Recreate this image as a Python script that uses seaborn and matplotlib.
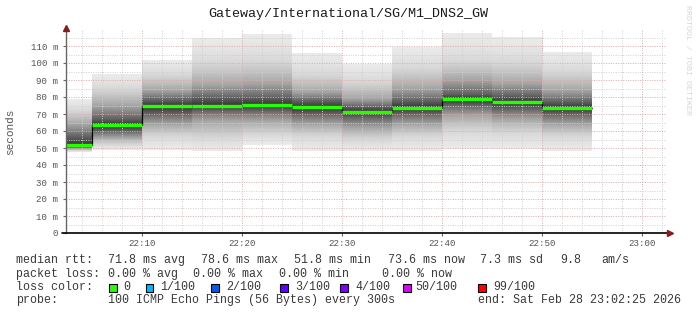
import matplotlib
matplotlib.use("Agg")
import matplotlib.pyplot as plt
import seaborn as sns
import numpy as np
import pandas as pd

# ---------------- data ----------------
title = "Gateway/International/SG/M1_DNS2_GW"
bar_end = ["22:05", "22:10", "22:15", "22:20", "22:25", "22:30",
           "22:35", "22:40", "22:45", "22:50", "22:55"]
rtt_max = [78.8, 93.5, 102.0, 114.5, 117.0, 105.7, 99.4, 109.2, 117.5, 115.0, 106.7]
rtt_q90 = [72.0, 85.0, 93.0, 100.0, 101.0, 93.0, 89.0, 97.0, 101.0, 100.0, 95.0]
rtt_q75 = [64.0, 75.0, 84.0, 87.0, 88.0, 83.0, 79.0, 85.0, 90.0, 88.0, 84.0]
rtt_q60 = [57.0, 67.5, 78.5, 80.0, 80.0, 78.0, 74.5, 78.0, 82.0, 81.0, 77.5]
rtt_med = [51.8, 63.3, 74.7, 74.9, 75.5, 74.0, 71.3, 73.8, 78.6, 77.0, 73.6]
rtt_q40 = [50.5, 60.0, 70.0, 72.0, 72.0, 70.0, 68.0, 70.0, 75.0, 73.0, 70.0]
rtt_q25 = [49.5, 56.0, 64.0, 66.0, 66.0, 64.0, 62.0, 64.0, 69.0, 67.0, 64.0]
rtt_q10 = [48.5, 52.0, 57.0, 56.0, 58.0, 57.0, 55.0, 57.0, 60.0, 59.0, 57.0]
rtt_min = [47.5, 49.0, 49.0, 48.0, 52.0, 48.0, 48.0, 48.0, 49.5, 49.5, 48.5]
quantile_levels = [0.0, 0.10, 0.25, 0.40, 0.50, 0.60, 0.75, 0.90, 1.0]

x_tick_labels = ["22:10", "22:20", "22:30", "22:40", "22:50", "23:00"]
y_tick_values = [0, 10, 20, 30, 40, 50, 60, 70, 80, 90, 100, 110]
view_start = "22:02:25"
view_end = "23:02:25"
step_minutes = 5

loss_labels = ["0", "1/100", "2/100", "3/100", "4/100", "50/100", "99/100"]
loss_colors = ["#26ff00", "#00b8ff", "#0059ff", "#5e00ff", "#7e00ff", "#dd00ff", "#ff0000"]

stats_rtt = ["median rtt:", "71.8 ms avg", "78.6 ms max", "51.8 ms min",
             "73.6 ms now", "7.3 ms sd", "9.8", "am/s"]
stats_loss = ["packet loss:", "0.00 % avg", "0.00 % max", "0.00 % min", "0.00 % now"]
probe_text = ["probe:", "100 ICMP Echo Pings (56 Bytes) every 300s",
              "end: Sat Feb 28 23:02:25 2026"]


def to_min(s):
    parts = [int(p) for p in s.split(":")]
    h, m = parts[0], parts[1]
    sec = parts[2] if len(parts) > 2 else 0
    return (h - 22) * 60 + m + sec / 60.0


df = pd.DataFrame({
    "end": [to_min(t) for t in bar_end],
    "lo": rtt_min, "q10": rtt_q10, "q25": rtt_q25, "q40": rtt_q40,
    "med": rtt_med, "q60": rtt_q60, "q75": rtt_q75, "q90": rtt_q90, "hi": rtt_max,
})
df["start"] = df["end"] - step_minutes
qcols = ["lo", "q10", "q25", "q40", "med", "q60", "q75", "q90", "hi"]

# ---------------- figure ----------------
sns.set_style("white")
plt.rcParams["font.family"] = ["Liberation Mono", "DejaVu Sans Mono"]

W, H = 697, 315
fig = plt.figure(figsize=(W / 100, H / 100), dpi=100)
fig.patch.set_facecolor("white")


def fx(px):
    return px / W


def fy(py):
    return 1 - py / H


ax = fig.add_axes([fx(66), fy(233), 600 / W, 204 / H])
x0, x1 = to_min(view_start), to_min(view_end)
y_top = 120

# smoke: shade each bar by depth into its ping distribution (darker toward the median)
ygrid = np.linspace(0, y_top, 1201)
for _, r in df.iterrows():
    qv = r[qcols].to_numpy(dtype=float)
    F = np.interp(ygrid, qv, quantile_levels)
    depth = 2 * np.minimum(F, 1 - F)
    gray = 0.92 - 0.72 * depth ** 1.4
    inside = (ygrid >= qv[0]) & (ygrid <= qv[-1])
    rgba = np.zeros((len(ygrid), 1, 4))
    rgba[:, 0, 0] = gray
    rgba[:, 0, 1] = gray
    rgba[:, 0, 2] = gray
    rgba[:, 0, 3] = inside.astype(float)
    ax.imshow(rgba, extent=[r["start"], r["end"], 0, y_top], origin="lower",
              aspect="auto", interpolation="nearest", zorder=1)

# median step line (black) + green loss-colored segments
xs = list(df["start"]) + [df["end"].iloc[-1]]
ys = list(df["med"]) + [df["med"].iloc[-1]]
step_df = pd.DataFrame({"t": xs, "v": ys})
sns.lineplot(data=step_df, x="t", y="v", ax=ax, color="black", lw=0.9,
             drawstyle="steps-post", estimator=None, zorder=3)
ax.hlines(df["med"], df["start"], df["end"], colors=loss_colors[0], lw=2.4, zorder=4)

ax.set_xlim(x0, x1)
ax.set_ylim(0, y_top)
ax.set_facecolor("white")

# grid
major_x = [to_min(t) for t in x_tick_labels]
minor_x = [m for m in np.arange(4, 63, 2) if m % 10 != 0]
ax.set_xticks(major_x)
ax.set_xticklabels(x_tick_labels)
ax.set_xticks(minor_x, minor=True)
ax.set_yticks(y_tick_values)
ax.set_yticklabels(["0" if v == 0 else f"{v} m" for v in y_tick_values])
ax.set_yticks([v + 5 for v in y_tick_values], minor=True)
ax.set_axisbelow(False)
ax.grid(which="major", color="#e3a8a8", linestyle=(0, (1, 1.5)), lw=0.7, zorder=2)
ax.grid(which="minor", color="#cfcfcf", linestyle=(0, (1, 1.5)), lw=0.7, zorder=2)
for sp in ax.spines.values():
    sp.set_visible(False)

ax.tick_params(axis="y", which="major", length=2.2, width=0.8, color="#666666",
               pad=3.4, labelsize=6.6, labelcolor="#555555", left=True)
ax.tick_params(axis="x", which="major", length=2, width=0.8, color="#666666",
               pad=2.2, labelsize=6.6, labelcolor="#555555", bottom=True)
ax.tick_params(which="minor", length=0)
ax.set_xlabel("")
ax.set_ylabel("")

# axes lines with arrows
ax.plot([x0, x0], [0, y_top], color="#666666", lw=1.0, clip_on=False, zorder=5)
ax.plot([x0 - 0.4, x1 + 0.3], [0, 0], color="black", lw=1.2, clip_on=False, zorder=5)
ax.plot([x0], [y_top + 0.3], marker="^", color="#8b1a1a", ms=4.5, clip_on=False, zorder=6)
ax.plot([x1 + 0.4], [0], marker=">", color="#8b1a1a", ms=4.5, clip_on=False, zorder=6)

# texts
fig.text(fx(348), fy(17.5), title, ha="center", va="baseline", fontsize=9.6, color="#1a1a1a")
fig.text(fx(10.5), fy(131.5), "seconds", rotation=90, ha="center", va="center",
         fontsize=8, color="#555555")
fig.text(fx(688), fy(5), "RRDTOOL / TOBI OETIKER", rotation=-90, ha="center", va="top",
         fontsize=6, color="#d6d6d6")

lc = "#3a3a3a"
fs = 8.4
rtt_x = [16, 108, 201, 294, 388, 480, 560, 601]
for t, px in zip(stats_rtt, rtt_x):
    fig.text(fx(px), fy(263.3), t, fontsize=fs, color=lc, va="baseline")
loss_x = [16, 108, 193.5, 279, 382]
for t, px in zip(stats_loss, loss_x):
    fig.text(fx(px), fy(276.7), t, fontsize=fs, color=lc, va="baseline")
fig.text(fx(16), fy(290), "loss color:", fontsize=fs, color=lc, va="baseline")
box_x = [109, 145.7, 211, 280, 340, 403.5, 478]
lab_x = [123.3, 160, 225.7, 295, 355, 415.7, 493.3]
for lab, col, bx, tx in zip(loss_labels, loss_colors, box_x, lab_x):
    fig.patches.append(plt.Rectangle((fx(bx), fy(292.3)), 7.5 / W, 8 / H,
                                     transform=fig.transFigure, facecolor=col,
                                     edgecolor="black", lw=0.8))
    fig.text(fx(tx), fy(290), lab, fontsize=fs, color=lc, va="baseline")
probe_x = [16, 108, 478]
for t, px in zip(probe_text, probe_x):
    fig.text(fx(px), fy(303.4), t, fontsize=fs, color=lc, va="baseline")

fig.savefig("out.png", dpi=100, facecolor="white")
